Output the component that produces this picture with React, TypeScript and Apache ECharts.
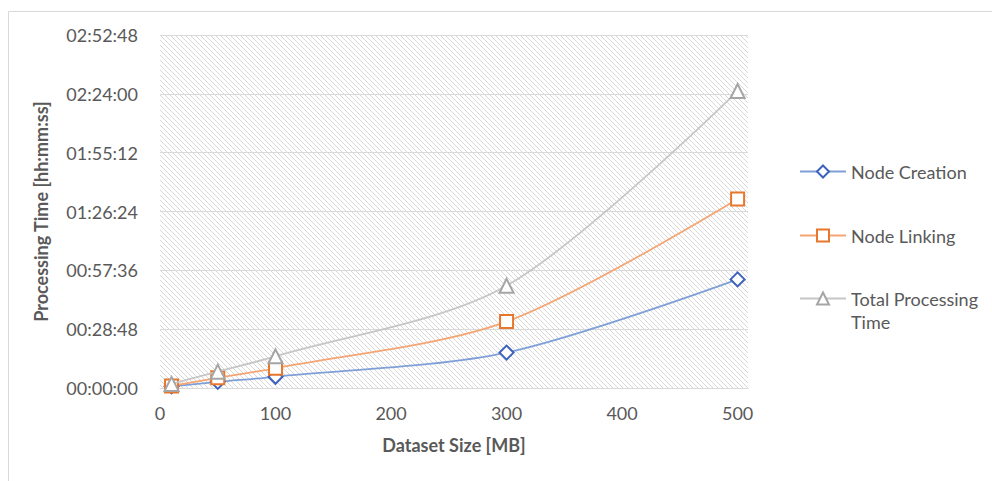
import React, { useEffect, useRef } from "react";
import * as echarts from "echarts";

const datasetSizes = [10, 50, 100, 300, 500];
const nodeCreation = [50, 180, 330, 1040, 3190];
const nodeLinking = [60, 300, 580, 1950, 5550];
const totalProcessing = [120, 480, 930, 3000, 8720];
const seriesNames = ["Node Creation", "Node Linking", "Total Processing Time"];

const fmtTime = (v: number) => {
  const s = Math.round(v);
  const h = Math.floor(s / 3600);
  const m = Math.floor((s % 3600) / 60);
  const sec = s % 60;
  const p = (n: number) => String(n).padStart(2, "0");
  return `${p(h)}:${p(m)}:${p(sec)}`;
};

const FONT = "Lato";
const TXT = "#595959";

function makeHatch() {
  const P = 5;
  const c = document.createElement("canvas");
  c.width = P;
  c.height = P;
  const ctx = c.getContext("2d")!;
  ctx.fillStyle = "#ffffff";
  ctx.fillRect(0, 0, P, P);
  ctx.strokeStyle = "#d8d8d8";
  ctx.lineWidth = 1;
  for (let k = -1; k <= 1; k++) {
    ctx.beginPath();
    ctx.moveTo(-1, -1 + k * P);
    ctx.lineTo(P + 1, P + 1 + k * P);
    ctx.stroke();
  }
  return c;
}

export default function App() {
  const ref = useRef<HTMLDivElement>(null);
  useEffect(() => {
    if (!ref.current) return;
    const chart = echarts.init(ref.current, null, { renderer: "svg" });
    const mk = (arr: number[]) => datasetSizes.map((x, i) => [x, arr[i]]);
    const legendBase = {
      orient: "vertical" as const,
      left: 799,
      padding: 0,
      itemWidth: 46,
      itemHeight: 15,
      itemGap: 10,
      textStyle: { fontFamily: FONT, fontSize: 18, color: TXT, lineHeight: 23 },
    };
    chart.setOption({
      animation: false,
      backgroundColor: "#ffffff",
      graphic: [
        {
          type: "rect",
          shape: { x: 8.5, y: 11.5, width: 1100, height: 1000 },
          style: { fill: "none", stroke: "#d9d9d9", lineWidth: 1 },
          silent: true,
          z: -10,
        },
      ],
      grid: {
        left: 160,
        top: 35,
        width: 588,
        height: 353,
        show: true,
        borderWidth: 0,
        backgroundColor: { image: makeHatch(), repeat: "repeat" },
      },
      legend: [
        { ...legendBase, top: 160, data: [seriesNames[0]] },
        { ...legendBase, top: 224, data: [seriesNames[1]] },
        {
          ...legendBase,
          top: 264,
          data: [seriesNames[2]],
          formatter: () => " \nTotal Processing\nTime",
        },
      ],
      xAxis: {
        type: "value",
        min: 0,
        max: 509,
        interval: 100,
        name: "Dataset Size [MB]",
        nameLocation: "middle",
        nameGap: 48,
        nameTextStyle: { fontFamily: FONT, fontSize: 18, fontWeight: "bold", color: TXT },
        axisLine: { show: true, lineStyle: { color: "#d9d9d9" } },
        axisTick: { show: false },
        splitLine: { show: false },
        axisLabel: {
          margin: 16,
          fontFamily: FONT,
          fontSize: 18,
          color: TXT,
          formatter: (v: number) => (v % 100 === 0 ? String(v) : ""),
        },
      },
      yAxis: {
        type: "value",
        min: 0,
        max: 10368,
        interval: 1728,
        name: "Processing Time [hh:mm:ss]",
        nameLocation: "middle",
        nameGap: 110,
        nameTextStyle: { fontFamily: FONT, fontSize: 18, fontWeight: "bold", color: TXT },
        axisLine: { show: false },
        axisTick: { show: false },
        splitLine: { show: true, lineStyle: { color: "#d9d9d9", width: 1 } },
        axisLabel: {
          margin: 22,
          fontFamily: FONT,
          fontSize: 18,
          color: TXT,
          formatter: (v: number) => fmtTime(v),
        },
      },
      series: [
        {
          name: seriesNames[0],
          type: "line",
          data: mk(nodeCreation),
          smooth: 0.3,
          symbol: "diamond",
          symbolSize: 14,
          lineStyle: { color: "#7f9fd8", width: 1.75 },
          itemStyle: { color: "#ffffff", borderColor: "#3d62bd", borderWidth: 2 },
          z: 3,
        },
        {
          name: seriesNames[1],
          type: "line",
          data: mk(nodeLinking),
          smooth: 0.3,
          symbol: "rect",
          symbolSize: 13,
          lineStyle: { color: "#f4a573", width: 1.75 },
          itemStyle: { color: "#ffffff", borderColor: "#e8772e", borderWidth: 2 },
          z: 4,
        },
        {
          name: seriesNames[2],
          type: "line",
          data: mk(totalProcessing),
          smooth: 0.3,
          symbol: "triangle",
          symbolSize: 14,
          lineStyle: { color: "#c6c6c6", width: 1.75 },
          itemStyle: { color: "#ffffff", borderColor: "#a5a5a5", borderWidth: 2 },
          z: 5,
        },
      ],
    });
    return () => chart.dispose();
  }, []);
  return (
    <div
      ref={ref}
      style={{ position: "fixed", left: 0, top: 0, width: 992, height: 481 }}
    />
  );
}
